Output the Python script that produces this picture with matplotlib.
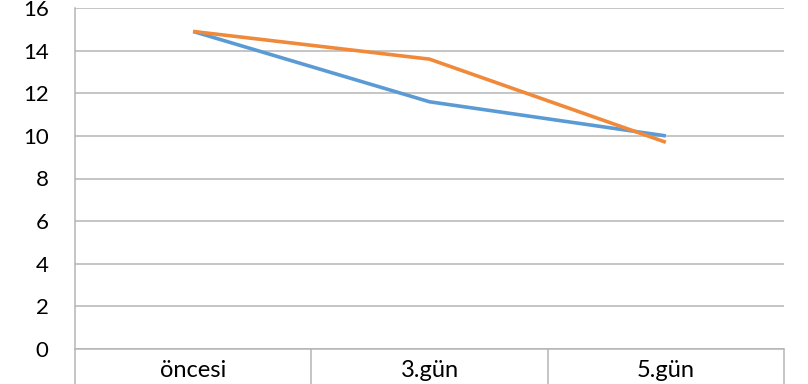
"""Two-series line chart: values before treatment, day 3 and day 5."""

import matplotlib.pyplot as plt

categories = ["öncesi", "3.gün", "5.gün"]
series_blue = [14.9, 11.6, 10.0]
series_orange = [14.9, 13.6, 9.7]
y_ticks = [0, 2, 4, 6, 8, 10, 12, 14, 16]

plt.rcParams["font.family"] = ["Lato", "DejaVu Sans"]

W, H = 808, 384
fig = plt.figure(figsize=(W / 100, H / 100), dpi=100)
left, right, top, bottom = 75, 784, 8, 349
ax = fig.add_axes([left / W, (H - bottom) / H, (right - left) / W, (bottom - top) / H])

x = range(len(categories))
ax.plot(x, series_blue, color="#5B9BD5", lw=2.6, solid_capstyle="butt", zorder=3)
ax.plot(x, series_orange, color="#F08A3A", lw=2.6, solid_capstyle="butt", zorder=4)

ax.set_xlim(-0.5, len(categories) - 0.5)
ax.set_ylim(0, 16)
ax.set_yticks(y_ticks)
ax.set_yticklabels([str(v) for v in y_ticks])
ax.grid(axis="y", color="#b5b5b5", lw=1.1)
ax.set_axisbelow(True)

ax.set_xticks(list(x))
ax.set_xticklabels(categories)
ax.set_xticks([i - 0.5 for i in range(len(categories) + 1)], minor=True)
ax.tick_params(axis="x", which="major", length=0, pad=8, labelsize=17)
ax.tick_params(axis="x", which="minor", length=30, width=1.1, color="#b5b5b5")
ax.tick_params(axis="y", length=0, pad=19, labelsize=16)

for side in ("top", "right"):
    ax.spines[side].set_visible(False)
for side in ("left", "bottom"):
    ax.spines[side].set_color("#b5b5b5")
    ax.spines[side].set_linewidth(1.1)

fig.savefig("out.png", dpi=100)
